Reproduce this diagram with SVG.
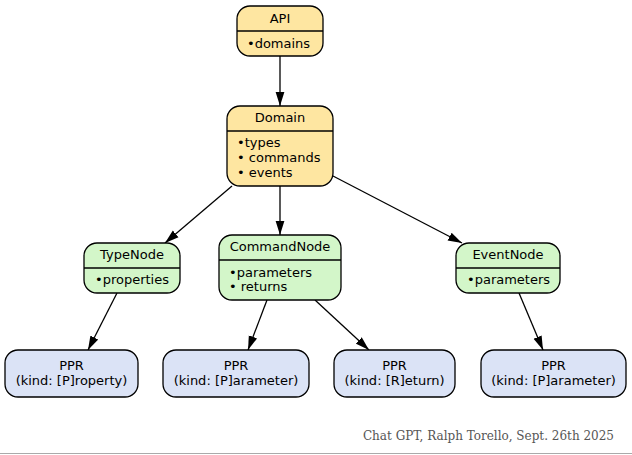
<svg xmlns="http://www.w3.org/2000/svg" width="632" height="455" viewBox="0 0 632 455">
<style>
.n rect{stroke:#000;stroke-width:1.3}
.y rect{fill:#fee6a1}
.g rect{fill:#d3f6c9}
.b rect{fill:#dbe3f6}
.d{stroke:#000;stroke-width:1.3}
text{font-family:"DejaVu Sans",sans-serif;font-size:13px;fill:#000}
.c{text-anchor:middle}
.e line{stroke:#000;stroke-width:1.3}
</style>
<defs>
<marker id="ah" viewBox="0 0 14 10" refX="14" refY="5" markerWidth="14" markerHeight="10" markerUnits="userSpaceOnUse" orient="auto">
<path d="M0,0.6 L14,5 L0,9.4 Z" fill="#000"/>
</marker>
</defs>
<rect width="632" height="455" fill="#fff"/>
<g class="e">
<line x1="280" y1="56" x2="280" y2="106" marker-end="url(#ah)"/>
<line x1="232" y1="186" x2="165" y2="243" marker-end="url(#ah)"/>
<line x1="280" y1="186" x2="280" y2="235" marker-end="url(#ah)"/>
<line x1="333" y1="176" x2="462" y2="243" marker-end="url(#ah)"/>
<line x1="117" y1="293" x2="88" y2="350" marker-end="url(#ah)"/>
<line x1="267" y1="300" x2="248" y2="350" marker-end="url(#ah)"/>
<line x1="315" y1="300" x2="369" y2="350" marker-end="url(#ah)"/>
<line x1="519" y1="293" x2="543" y2="350" marker-end="url(#ah)"/>
</g>
<g id="api" class="n y">
<rect x="237" y="6" width="86" height="50" rx="13"/>
<line class="d" x1="237" y1="31" x2="323" y2="31"/>
<text class="c" x="280" y="22.5">API</text>
<text x="247" y="47.5">•domains</text>
</g>
<g id="domain" class="n y">
<rect x="227" y="106" width="106" height="80" rx="13"/>
<line class="d" x1="227" y1="131" x2="333" y2="131"/>
<text class="c" x="280" y="122">Domain</text>
<text x="237" y="147">•types</text>
<text x="237" y="162">• commands</text>
<text x="237" y="177">• events</text>
</g>
<g id="typenode" class="n g">
<rect x="84" y="243" width="96" height="50" rx="13"/>
<line class="d" x1="84" y1="268" x2="180" y2="268"/>
<text class="c" x="132" y="259">TypeNode</text>
<text x="95" y="284">•properties</text>
</g>
<g id="commandnode" class="n g">
<rect x="219" y="235" width="122" height="65" rx="13"/>
<line class="d" x1="219" y1="260" x2="341" y2="260"/>
<text class="c" x="280" y="251">CommandNode</text>
<text x="229" y="277">•parameters</text>
<text x="229" y="291">• returns</text>
</g>
<g id="eventnode" class="n g">
<rect x="456" y="243" width="104" height="50" rx="13"/>
<line class="d" x1="456" y1="268" x2="560" y2="268"/>
<text class="c" x="508" y="259">EventNode</text>
<text x="467" y="284">•parameters</text>
</g>
<g id="ppr1" class="n b">
<rect x="5" y="350" width="133" height="47" rx="13"/>
<text class="c" x="71.5" y="370">PPR</text>
<text class="c" x="71.5" y="385">(kind: [P]roperty)</text>
</g>
<g id="ppr2" class="n b">
<rect x="163" y="350" width="146" height="47" rx="13"/>
<text class="c" x="236" y="370">PPR</text>
<text class="c" x="236" y="385">(kind: [P]arameter)</text>
</g>
<g id="ppr3" class="n b">
<rect x="334" y="350" width="121" height="47" rx="13"/>
<text class="c" x="394.5" y="370">PPR</text>
<text class="c" x="394.5" y="385">(kind: [R]eturn)</text>
</g>
<g id="ppr4" class="n b">
<rect x="481" y="350" width="145" height="47" rx="13"/>
<text class="c" x="553.5" y="370">PPR</text>
<text class="c" x="553.5" y="385">(kind: [P]arameter)</text>
</g>
<text x="614" y="440" style="font-family:'DejaVu Serif',serif;font-size:12px;fill:#555;text-anchor:end">Chat GPT, Ralph Torello, Sept. 26th 2025</text>
<line x1="0" y1="453.5" x2="632" y2="453.5" stroke="#aaa" stroke-width="1"/>
</svg>
